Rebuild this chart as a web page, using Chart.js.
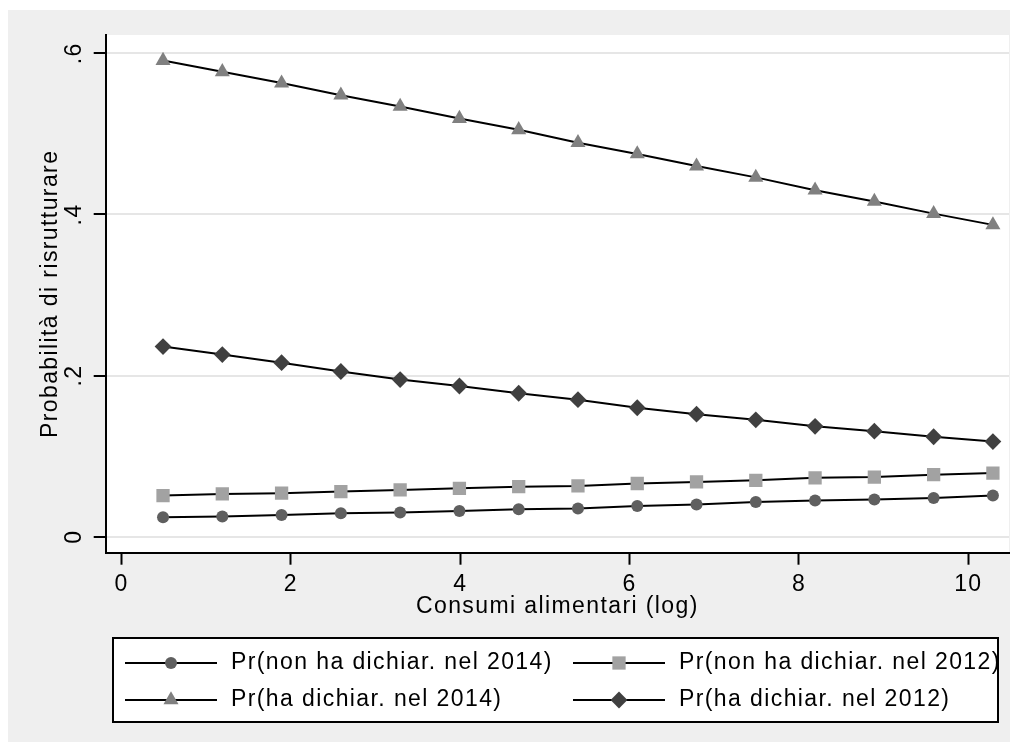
<!DOCTYPE html>
<html>
<head>
<meta charset="utf-8">
<script src="https://cdn.jsdelivr.net/npm/chart.js@4/dist/chart.umd.min.js"></script>
<style>
  html, body { margin: 0; padding: 0; background: #fff; }
</style>
</head>
<body>
<canvas id="probChart" width="1019" height="753"></canvas>
<script>
// Consumi alimentari (log)
const consumi = [0.49, 1.19, 1.89, 2.59, 3.29, 3.99, 4.69, 5.39, 6.09, 6.79, 7.49, 8.19, 8.89, 9.59, 10.29];

const nonDich2014 = [0.024, 0.025, 0.027, 0.029, 0.030, 0.032, 0.034, 0.035, 0.038, 0.040, 0.043, 0.045, 0.046, 0.048, 0.051];
const nonDich2012 = [0.051, 0.053, 0.054, 0.056, 0.058, 0.060, 0.062, 0.063, 0.066, 0.068, 0.070, 0.073, 0.074, 0.077, 0.079];
const dich2014 = [0.591, 0.577, 0.563, 0.548, 0.534, 0.519, 0.505, 0.489, 0.475, 0.460, 0.446, 0.430, 0.416, 0.401, 0.387];
const dich2012 = [0.236, 0.226, 0.216, 0.205, 0.195, 0.187, 0.178, 0.170, 0.160, 0.152, 0.145, 0.137, 0.131, 0.124, 0.118];

const seriesLabels = [
  "Pr(non ha dichiar. nel 2014)",
  "Pr(non ha dichiar. nel 2012)",
  "Pr(ha dichiar. nel 2014)",
  "Pr(ha dichiar. nel 2012)"
];

const xTicks = [0, 2, 4, 6, 8, 10];
const yTicks = [0, 0.2, 0.4, 0.6];
const yTickLabels = ["0", ".2", ".4", ".6"];

const FONT = "'Liberation Sans', Arial, sans-serif";
const SPACING = "1.4px";
const textFont = { family: FONT, size: 23 };

function toPoints(ys) {
  return consumi.map((x, i) => ({ x: x, y: ys[i] }));
}

function series(label, ys, style, color, radius) {
  return {
    label: label,
    data: toPoints(ys),
    borderColor: "#000",
    borderWidth: 2,
    tension: 0,
    fill: false,
    pointStyle: style,
    pointRadius: radius,
    pointBackgroundColor: color,
    pointBorderWidth: 0
  };
}

// gray frame, white plot region and text spacing
const framePlugin = {
  id: "frame",
  beforeLayout(chart) {
    chart.ctx.letterSpacing = SPACING;
  },
  beforeDraw(chart) {
    const { ctx, chartArea: a, width, height } = chart;
    ctx.save();
    ctx.fillStyle = "#fff";
    ctx.fillRect(0, 0, width, height);
    ctx.fillStyle = "#efefef";
    ctx.fillRect(8, 10, 1002, 732);
    ctx.fillStyle = "#fff";
    ctx.fillRect(a.left, a.top, a.right - a.left, a.bottom - a.top);
    ctx.restore();
    ctx.letterSpacing = SPACING;
  }
};

// boxed legend, two columns, line with marker in the middle
const legendBoxPlugin = {
  id: "legendBox",
  afterDraw(chart) {
    const ctx = chart.ctx;
    ctx.save();
    ctx.fillStyle = "#fff";
    ctx.strokeStyle = "#000";
    ctx.lineWidth = 2;
    ctx.fillRect(113, 638, 885, 84);

    chart.data.datasets.forEach((ds, i) => {
      const col = i % 2;
      const row = Math.floor(i / 2);
      const x0 = col ? 573 : 125;
      const y = row ? 700 : 663;

      ctx.strokeStyle = "#000";
      ctx.lineWidth = 2;
      ctx.beginPath();
      ctx.moveTo(x0, y);
      ctx.lineTo(x0 + 92, y);
      ctx.stroke();

      ctx.fillStyle = ds.pointBackgroundColor;
      Chart.helpers.drawPoint(ctx, {
        pointStyle: ds.pointStyle,
        radius: ds.pointRadius,
        rotation: 0,
        borderWidth: 0
      }, x0 + 46, y);

      ctx.fillStyle = "#000";
      ctx.font = "23px " + FONT;
      ctx.letterSpacing = SPACING;
      ctx.textAlign = "left";
      ctx.textBaseline = "middle";
      ctx.fillText(ds.label, x0 + 106, y);
    });

    ctx.strokeStyle = "#000";
    ctx.lineWidth = 2;
    ctx.strokeRect(113, 638, 885, 84);
    ctx.restore();
  }
};

new Chart(document.getElementById("probChart"), {
  type: "line",
  data: {
    datasets: [
      series(seriesLabels[0], nonDich2014, "circle", "#5f5f5f", 6),
      series(seriesLabels[1], nonDich2012, "rect", "#a2a2a2", 9.4),
      series(seriesLabels[2], dich2014, "triangle", "#808080", 8.7),
      series(seriesLabels[3], dich2012, "rectRot", "#404040", 8.4)
    ]
  },
  options: {
    responsive: false,
    devicePixelRatio: 1,
    animation: false,
    layout: {
      padding: { left: 0, top: 35, right: 10, bottom: 130.3 }
    },
    plugins: {
      legend: { display: false },
      tooltip: { enabled: false }
    },
    scales: {
      x: {
        type: "linear",
        min: -0.187,
        max: 10.48,
        afterBuildTicks: s => { s.ticks = xTicks.map(v => ({ value: v })); },
        afterFit: s => { s.height = 70; },
        grid: {
          drawOnChartArea: false,
          drawTicks: true,
          tickLength: 12,
          tickWidth: 2,
          tickColor: "#000"
        },
        border: { display: true, color: "#000", width: 2 },
        ticks: {
          color: "#000",
          font: textFont,
          padding: 6.5,
          maxRotation: 0,
          autoSkip: false,
          callback: v => String(v)
        },
        title: {
          display: true,
          text: "Consumi alimentari (log)",
          color: "#000",
          font: textFont,
          padding: { top: 0, bottom: 2 }
        }
      },
      y: {
        type: "linear",
        min: -0.0199,
        max: 0.6227,
        afterBuildTicks: s => { s.ticks = yTicks.map(v => ({ value: v })); },
        afterFit: s => { s.width = 105.7; },
        grid: {
          color: "#e6e6e6",
          lineWidth: 2,
          drawTicks: true,
          tickLength: 12,
          tickWidth: 2,
          tickColor: "#000"
        },
        border: { display: true, color: "#000", width: 2 },
        ticks: {
          color: "#000",
          font: textFont,
          padding: 8,
          minRotation: 90,
          maxRotation: 90,
          crossAlign: "center",
          autoSkip: false,
          callback: (v, i) => yTickLabels[i]
        },
        title: {
          display: true,
          text: "Probabilità di risrutturare",
          color: "#000",
          font: textFont,
          padding: { top: 37, bottom: 0 }
        }
      }
    }
  },
  plugins: [framePlugin, legendBoxPlugin]
});
</script>
</body>
</html>
